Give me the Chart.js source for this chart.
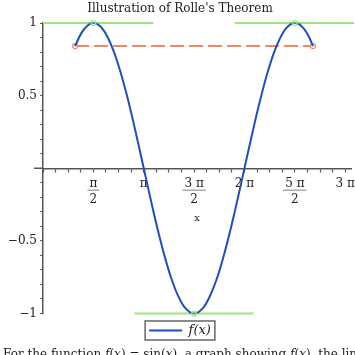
<!DOCTYPE html>
<html><head><meta charset="utf-8">
<script src="https://cdn.jsdelivr.net/npm/chart.js@4"></script>
<style>
html,body{margin:0;padding:0;background:#fff;overflow:hidden;width:355px;height:355px}
#c{position:absolute;left:0;top:0}
#cap{position:absolute;left:3px;top:347px;white-space:nowrap;font:12px 'DejaVu Serif';color:#222}
</style></head><body>
<canvas id="c" width="360" height="355"></canvas>
<div id="cap">For the function <i>f</i>(<i>x</i>) = sin(<i>x</i>), a graph showing <i>f</i>(<i>x</i>), the line through the endpoints and horizontal tangent lines.</div>
<script>
// f(x) samples
const curveX = [1.0,1.2,1.4,1.571,1.8,2.0,2.2,2.4,2.6,2.8,3.0,3.2,3.4,3.6,3.8,4.0,4.2,4.4,4.712,5.0,5.2,5.4,5.6,5.8,6.0,6.2,6.4,6.6,6.8,7.0,7.2,7.4,7.6,7.854,8.1,8.3,8.42];
const curveY = [0.841,0.932,0.985,1.0,0.974,0.909,0.808,0.675,0.516,0.335,0.141,-0.058,-0.256,-0.443,-0.612,-0.757,-0.872,-0.952,-1.0,-0.959,-0.883,-0.773,-0.631,-0.465,-0.279,-0.083,0.117,0.312,0.494,0.657,0.794,0.899,0.968,1.0,0.970,0.902,0.841];
// secant through endpoints
const secantX = [1.0, 8.42];
const secantY = [0.841, 0.841];
// horizontal tangents
const tanTopLeftX = [0, 3.44];
const tanTopRightX = [5.98, 9.7];
const tanBottomX = [2.85, 6.57];
const tanTopY = [1, 1];
const tanBottomY = [-1, -1];
// extremum points
const extremaX = [1.571, 4.712, 7.854];
const extremaY = [1, -1, 1];
// tick labels
const xMajorMultiples = [0.5, 1, 1.5, 2, 2.5, 3]; // multiples of pi
const xMajorLabels = [["π","2"], "π", ["3 π","2"], "2 π", ["5 π","2"], "3 π"];
const yLabelValues = [-1, -0.5, 0.5, 1];
const yLabels = ["−1", "−0.5", "0.5", "1"];

const zip = (xs, ys) => xs.map((x, i) => ({x, y: ys[i]}));
const BLUE = '#1f50b8', ORANGE = '#f0866a', GREEN = '#9be67e', AXIS = '#555';

const fracPlugin = {
  id: 'frac',
  afterDraw(chart) {
    const ctx = chart.ctx, xs = chart.scales.x, ys = chart.scales.y;
    const y0 = ys.getPixelForValue(0);
    ctx.save();
    // short extension of the x axis to the left of the y axis
    ctx.strokeStyle = AXIS; ctx.lineWidth = 1.5;
    ctx.beginPath(); ctx.moveTo(xs.left - 9, y0); ctx.lineTo(xs.left, y0); ctx.stroke();
    ctx.strokeStyle = '#aaa'; ctx.lineWidth = 1.5;
    xMajorMultiples.forEach((m, i) => {
      const lab = xMajorLabels[i];
      if (Array.isArray(lab)) {
        ctx.font = "12px 'DejaVu Serif'";
        const w = ctx.measureText(lab[0]).width + 4;
        const px = xs.getPixelForValue(m * Math.PI);
        ctx.beginPath();
        ctx.moveTo(px - w/2, y0 + 22); ctx.lineTo(px + w/2, y0 + 22);
        ctx.stroke();
      }
    });
    // legend frame
    const lg = chart.legend;
    if (lg && lg.legendHitBoxes && lg.legendHitBoxes.length) {
      const hb = lg.legendHitBoxes[0];
      ctx.strokeStyle = '#666'; ctx.lineWidth = 1.5;
      ctx.strokeRect(hb.left - 4, hb.top - 3, hb.width + 8, hb.height + 6);
    }
    ctx.restore();
  }
};

new Chart(document.getElementById('c'), {
  type: 'scatter',
  data: { datasets: [
    {label: 'f(x)', data: zip(curveX, curveY), showLine: true, borderColor: BLUE, backgroundColor: BLUE, borderWidth: 2, pointRadius: 0, cubicInterpolationMode: 'monotone', order: 1},
    {label: 'secant', data: zip(secantX, secantY), showLine: true, borderColor: ORANGE, borderWidth: 2, borderDash: [14, 5], pointRadius: 2.5, pointBorderWidth: 1.2, pointBackgroundColor: '#fff', pointBorderColor: ORANGE, order: 2},
    {label: 't1', data: zip(tanTopLeftX, tanTopY), showLine: true, borderColor: GREEN, borderWidth: 2, pointRadius: 0, order: 3},
    {label: 't2', data: zip(tanTopRightX, tanTopY), showLine: true, borderColor: GREEN, borderWidth: 2, pointRadius: 0, order: 3},
    {label: 't3', data: zip(tanBottomX, tanBottomY), showLine: true, borderColor: GREEN, borderWidth: 2, pointRadius: 0, order: 3},
    {label: 'ext', data: zip(extremaX, extremaY), showLine: false, pointRadius: 2.5, pointBorderWidth: 1.2, pointBackgroundColor: 'rgba(255,255,255,0.3)', pointBorderColor: GREEN, order: 0}
  ]},
  options: {
    responsive: false, animation: false,
    clip: false,
    layout: { padding: { left: 0, right: 0, top: 0, bottom: 8 } },
    plugins: {
      title: { display: true, text: "Illustration of Rolle's Theorem", color: '#222', font: {family: 'DejaVu Serif', size: 12, weight: 'normal'}, padding: {top: 2, bottom: 6.6} },
      legend: { position: 'bottom', labels: {
          filter: it => it.text === 'f(x)', usePointStyle: true, pointStyle: 'line', pointStyleWidth: 33,
          color: '#222', font: {family: 'DejaVu Serif', size: 13, style: 'italic'}, padding: 10.5, boxHeight: 12 } },
      tooltip: { enabled: false }
    },
    scales: {
      x: {
        type: 'linear', min: 0, max: 9.61, position: {y: 0},
        afterBuildTicks: s => {
          const t = [];
          for (let k = 0; k <= 24; k++) t.push({value: k * Math.PI / 8});
          s.ticks = t;
        },
        ticks: {
          autoSkip: false, maxRotation: 0, padding: 5, color: '#222',
          font: {family: 'DejaVu Serif', size: 12, lineHeight: 1.3},
          callback: v => {
            const i = xMajorMultiples.findIndex(m => Math.abs(m * Math.PI - v) < 1e-6);
            return i >= 0 ? xMajorLabels[i] : '';
          }
        },
        grid: { drawOnChartArea: false, drawTicks: true, tickLength: 3, tickColor: AXIS, tickWidth: 1.2 },
        border: { display: true, color: AXIS, width: 1.5 },
        title: { display: true, text: 'x', color: '#222', font: {family: 'DejaVu Serif', size: 10}, padding: {top: 0} }
      },
      y: {
        type: 'linear', min: -1, max: 1, position: 'left',
        afterFit: s => { s.width = 43; },
        afterBuildTicks: s => {
          const t = [];
          for (let k = -10; k <= 10; k++) t.push({value: k / 10});
          s.ticks = t;
        },
        ticks: {
          autoSkip: false, padding: 3, color: '#222',
          font: {family: 'DejaVu Serif', size: 12},
          callback: v => {
            const i = yLabelValues.findIndex(m => Math.abs(m - v) < 1e-6);
            return i >= 0 ? yLabels[i] : '';
          }
        },
        grid: { drawOnChartArea: false, drawTicks: true, tickLength: 3, tickColor: AXIS, tickWidth: 1.2 },
        border: { display: true, color: AXIS, width: 1.5 }
      }
    }
  },
  plugins: [fracPlugin]
});
</script>
</body></html>
